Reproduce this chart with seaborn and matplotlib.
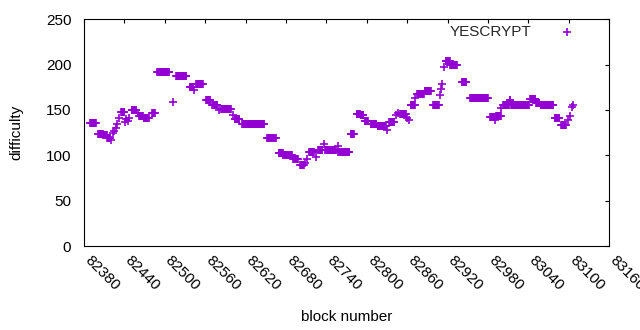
import numpy as np
import pandas as pd
import matplotlib
matplotlib.use("Agg")
import matplotlib.pyplot as plt
import matplotlib.transforms as mtransforms
import seaborn as sns

# runs of consecutive blocks with the same difficulty (start block, end block, value)
seg_start = [82389, 82401, 82409, 82415, 82421, 82423, 82425, 82427, 82429, 82432,
             82435, 82441, 82443, 82445, 82447, 82451, 82461, 82462, 82469, 82481,
             82489, 82513, 82517, 82537, 82544, 82547, 82562, 82570, 82580, 82584,
             82601, 82604, 82615, 82652, 82669, 82676, 82691, 82701, 82708, 82711,
             82714, 82725, 82728, 82736, 82738, 82757, 82758, 82776, 82785, 82791,
             82797, 82806, 82816, 82830, 82833, 82844, 82846, 82850, 82860, 82862,
             82865, 82872, 82875, 82886, 82899, 82908, 82910, 82912, 82914, 82917,
             82924, 82941, 82953, 82983, 82991, 82992, 83000, 83002, 83010, 83012,
             83014, 83043, 83051, 83058, 83079, 83089, 83099, 83101, 83104, 83106]
seg_end = [82398, 82408, 82414, 82419, 82421, 82423, 82425, 82427, 82429, 82432,
           82440, 82441, 82443, 82445, 82447, 82458, 82461, 82468, 82476, 82485,
           82507, 82513, 82532, 82542, 82544, 82557, 82568, 82578, 82580, 82598,
           82601, 82611, 82648, 82665, 82675, 82689, 82698, 82707, 82708, 82711,
           82721, 82725, 82734, 82736, 82754, 82757, 82774, 82781, 82790, 82795,
           82802, 82814, 82828, 82830, 82841, 82844, 82846, 82858, 82860, 82862,
           82871, 82872, 82885, 82895, 82907, 82908, 82910, 82912, 82914, 82923,
           82934, 82948, 82980, 82990, 82991, 82999, 83000, 83008, 83011, 83013,
           83041, 83050, 83056, 83077, 83086, 83096, 83099, 83101, 83104, 83106]
seg_value = [136, 124, 122, 119, 117, 125, 127, 130, 134, 141,
             148, 137, 140, 138, 141, 150, 147, 143, 141, 147,
             192, 159, 188, 175, 172, 179, 161, 156, 150, 151,
             144, 140, 135, 119, 103, 100, 96, 89, 92, 96,
             104, 98, 106, 112, 106, 110, 104, 123, 146, 144,
             138, 134, 132, 128, 137, 144, 147, 146, 141, 139,
             156, 163, 168, 171, 156, 166, 173, 179, 197, 204,
             200, 181, 163, 142, 139, 143, 152, 156, 156, 161,
             156, 162, 158, 156, 141, 133, 139, 143, 153, 156]

series_label = "YESCRYPT"
x_ticks = list(range(82380, 83161, 60))
y_ticks = [0, 50, 100, 150, 200, 250]

blocks, diffs = [], []
for s, e, v in zip(seg_start, seg_end, seg_value):
    for b in range(s, e + 1):
        blocks.append(b)
        diffs.append(v)
df = pd.DataFrame({"block number": blocks, "difficulty": diffs})

sns.set_theme(style="white")
plt.rcParams['font.family'] = ['Liberation Sans', 'DejaVu Sans']

fig = plt.figure(figsize=(6.4, 3.3), dpi=100)
ax = fig.add_axes([0.131, 0.2545, 0.821, 0.687])

color = "#9400d3"
sns.scatterplot(data=df, x="block number", y="difficulty", marker="+", s=30,
                color=color, linewidth=1.2, ax=ax, label=series_label, legend=False)

ax.set_xlim(82380, 83160)
ax.set_ylim(0, 250)
ax.set_xticks(x_ticks)
ax.set_yticks(y_ticks)
ax.set_xticklabels([str(t) for t in x_ticks], rotation=-45, ha="left", va="center",
                   rotation_mode="anchor", fontsize=11)
ax.set_yticklabels([str(t) for t in y_ticks], fontsize=11)
ax.tick_params(direction="in", length=3.2, width=0.8, top=True, right=True,
               colors="black", labelcolor="black")
ax.tick_params(axis="x", pad=8.6)
ax.tick_params(axis="y", pad=9)
shift = mtransforms.ScaledTranslation(3 / 100, 0, fig.dpi_scale_trans)
for lab in ax.get_xticklabels():
    lab.set_transform(lab.get_transform() + shift)
for sp in ax.spines.values():
    sp.set_color("black")
    sp.set_linewidth(0.8)
    sp.set_visible(True)

ax.set_xlabel("block number", fontsize=11, color="black", labelpad=12)
ax.set_ylabel("difficulty", fontsize=11, color="black", labelpad=16)

h, l = ax.get_legend_handles_labels()
leg = ax.legend(h, l, loc="center right", bbox_to_anchor=(0.948, 0.944),
                frameon=False, markerfirst=False, fontsize=11, borderpad=0,
                borderaxespad=0, handlelength=2, handletextpad=1.3)

fig.savefig("out.png", dpi=100, facecolor="white")
